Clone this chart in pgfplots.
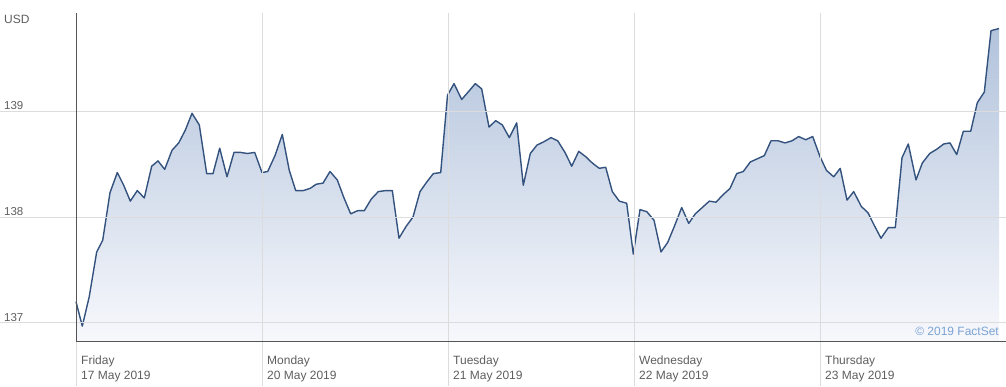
\documentclass[border=0pt]{standalone}
\usepackage{pgfplots}
\pgfplotsset{compat=1.18}
\usepackage{fontspec}
\setmainfont{Liberation Sans}
\definecolor{gridc}{HTML}{DCDCDC}
\definecolor{axisc}{HTML}{555555}
\definecolor{labc}{HTML}{5E5E5E}
\definecolor{linec}{HTML}{34527E}
\definecolor{filltop}{HTML}{B2C3DC}
\definecolor{fillbot}{HTML}{F7F8FC}
\definecolor{factc}{HTML}{7BA3D4}
\pgfplotstableread{
x y
76 137.20
82.3 136.97
89.3 137.25
96.7 137.67
102.7 137.78
110 138.23
117.3 138.42
123.7 138.30
130.3 138.15
137.3 138.25
144.3 138.18
151.7 138.48
158 138.53
164.7 138.45
172 138.63
178.7 138.70
185.3 138.82
192 138.98
199.3 138.87
206.7 138.41
213 138.41
219.7 138.65
227 138.38
234 138.61
240.7 138.61
247.3 138.60
254.7 138.61
262 138.42
267.7 138.43
275 138.58
282.3 138.78
289.3 138.44
295.7 138.25
303.3 138.25
310 138.27
316.3 138.31
323 138.32
330 138.43
337.3 138.35
344 138.18
350.7 138.03
357.7 138.06
364.3 138.06
371.3 138.17
378.3 138.24
385.7 138.25
392.3 138.25
399 137.80
406 137.91
413 138.00
420 138.24
426.7 138.33
433.3 138.41
440.7 138.42
447.5 139.15
454 139.26
461.7 139.11
469 139.19
475.3 139.26
481.7 139.21
489 138.85
495.7 138.91
502.3 138.87
509.3 138.75
516.7 138.89
523.3 138.30
530.3 138.60
537 138.68
543.7 138.71
551 138.75
557.7 138.72
565 138.61
571.7 138.48
578.7 138.62
585.7 138.57
592.3 138.51
599.3 138.46
605.7 138.47
612.3 138.24
619.3 138.15
626.7 138.13
633.3 137.65
640 138.07
646.8 138.05
654 137.97
661 137.67
667.7 137.76
674.7 137.92
681.7 138.09
688.7 137.94
695.3 138.03
702.3 138.09
709.3 138.15
716 138.14
723 138.21
730 138.27
736.7 138.41
743.3 138.43
750.3 138.52
757.3 138.55
764.3 138.58
771 138.72
778 138.72
785 138.70
792 138.72
798.7 138.76
805.7 138.73
812.7 138.76
820 138.57
826.5 138.44
833.7 138.38
840.2 138.46
847 138.16
853.7 138.24
861.3 138.10
868 138.04
874.3 137.92
881 137.80
888.3 137.90
895.3 137.90
902 138.56
908.3 138.69
916 138.35
922.3 138.51
929.7 138.60
936.7 138.64
943.7 138.69
950 138.70
956.7 138.59
963.3 138.81
970.7 138.81
977.3 139.08
984.3 139.18
991 139.76
999 139.78
}\pricedata
\begin{document}
\begin{tikzpicture}
\useasboundingbox (0,0) rectangle (1006pt,386pt);
\begin{axis}[
  at={(76pt,45pt)}, anchor=south west,
  scale only axis, width=930pt, height=328pt,
  xmin=76, xmax=1006, ymin=136.829, ymax=139.927,
  clip=false,
  axis x line*=bottom, axis y line*=left,
  axis line style={draw=axisc, line width=1pt},
  major tick length=0pt,
  xtick={76,262,448,634,820},
  xticklabels={{Friday\\17 May 2019},{Monday\\20 May 2019},{Tuesday\\21 May 2019},{Wednesday\\22 May 2019},{Thursday\\23 May 2019}},
  xticklabel style={anchor=north west, align=left, inner sep=0pt, xshift=5pt, yshift=-15pt, text=labc, font=\fontsize{12}{15}\selectfont},
  ytick={137,138,139},
  yticklabels={137,138,139},
  yticklabel style={anchor=base west, inner sep=0pt, xshift=-72pt, yshift=1.5pt, text=labc, font=\fontsize{11.5}{13}\selectfont},
  /pgf/number format/assume math mode=true,
  xmajorgrids, ymajorgrids,
  grid style={draw=gridc, line width=0.8pt},
  axis on top,
]
\addplot[draw=none, top color=filltop, bottom color=fillbot] table[x=x,y=y] {\pricedata} -- (axis cs:999,136.829) -- (axis cs:76,136.829) -- cycle;
\addplot[draw=linec, line width=1.4pt, line join=round, no marks] table[x=x,y=y] {\pricedata};
\pgfplotsinvokeforeach{76,262,448,634,820}{
  \draw[gridc, line width=0.8pt] (axis cs:#1,136.829) -- ++(0pt,-45pt);
}
\pgfplotsinvokeforeach{137,138,139}{
  \draw[gridc, line width=0.8pt] (axis cs:76,#1) -- ++(-76pt,0pt);
}
\end{axis}
\node[anchor=base west, inner sep=0pt, text=labc, font=\fontsize{12}{14}\selectfont] at (4pt,362pt) {USD};
\node[anchor=base east, inner sep=0pt, text=factc, font=\fontsize{12}{14}\selectfont] at (999pt,51pt) {\textcopyright{} 2019 FactSet};
\end{tikzpicture}
\end{document}
